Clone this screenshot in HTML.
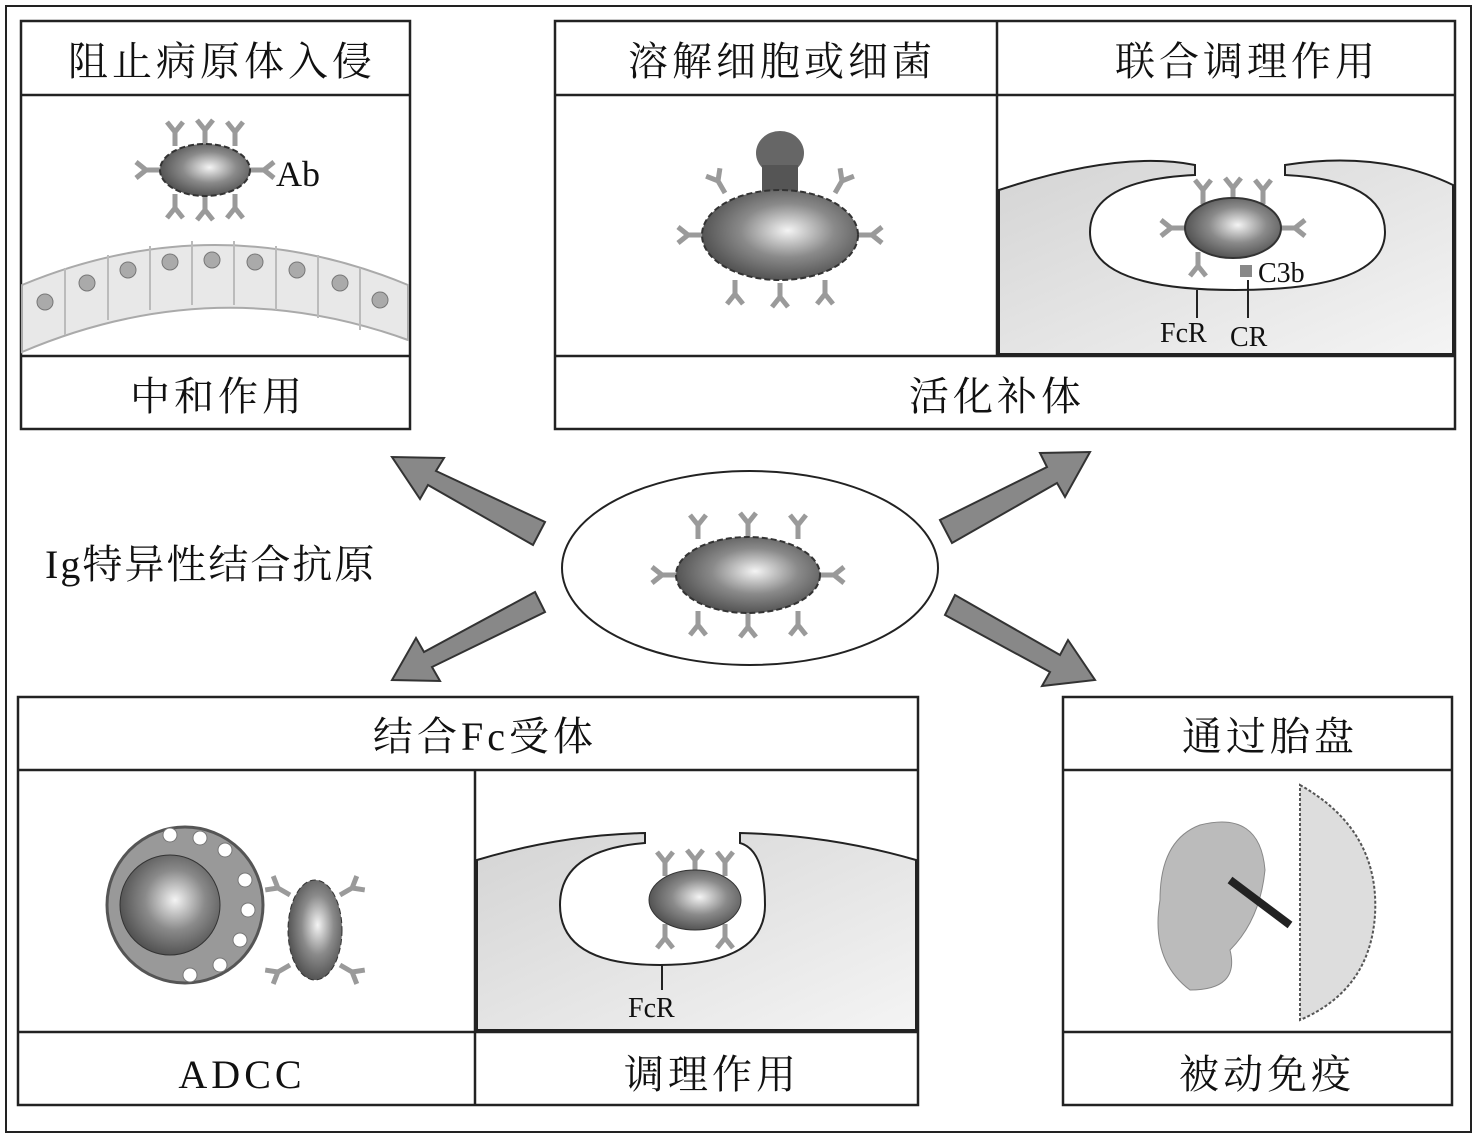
<!DOCTYPE html>
<html><head><meta charset="utf-8"><style>
html,body{margin:0;padding:0;background:#fff;}
svg{display:block;}
text{font-family:"Liberation Serif","Noto Serif CJK SC","Noto Sans CJK SC",serif;fill:#111;}
.h{letter-spacing:4px;}
</style></head><body>
<svg width="1477" height="1144" viewBox="0 0 1477 1144" xmlns="http://www.w3.org/2000/svg">
<defs>
<radialGradient id="bact" cx="0.55" cy="0.45" r="0.6"><stop offset="0" stop-color="#f4f4f4"/><stop offset="0.5" stop-color="#8a8a8a"/><stop offset="1" stop-color="#4a4a4a"/></radialGradient>
<linearGradient id="cellbg" x1="0" y1="0" x2="1" y2="1"><stop offset="0" stop-color="#d4d4d4"/><stop offset="1" stop-color="#f4f4f4"/></linearGradient>
<g id="ab"><path d="M0,0 L0,-14 M0,-14 L-8,-24 M0,-14 L8,-24" stroke="#9a9a9a" stroke-width="5" fill="none"/></g>
</defs>
<rect x="0" y="0" width="1477" height="1144" fill="#fff"/>
<rect x="6" y="6" width="1465" height="1126" fill="none" stroke="#222" stroke-width="2"/>

<!-- top-left box -->
<rect x="21" y="21" width="389" height="408" fill="#fff" stroke="#222" stroke-width="2.5"/>
<line x1="21" y1="95" x2="410" y2="95" stroke="#222" stroke-width="2.5"/>
<line x1="21" y1="356" x2="410" y2="356" stroke="#222" stroke-width="2.5"/>
<text class="h" x="222" y="75" font-size="40" text-anchor="middle">阻止病原体入侵</text>
<text class="h" x="218" y="410" font-size="40" text-anchor="middle">中和作用</text>
<g transform="translate(205,170)">
<use href="#ab" transform="translate(-30,-24)"/><use href="#ab" transform="translate(0,-26)"/><use href="#ab" transform="translate(30,-24)"/>
<use href="#ab" transform="translate(-30,24) rotate(180)"/><use href="#ab" transform="translate(0,26) rotate(180)"/><use href="#ab" transform="translate(30,24) rotate(180)"/>
<use href="#ab" transform="translate(-45,0) rotate(-90)"/><use href="#ab" transform="translate(45,0) rotate(90)"/>
<ellipse cx="0" cy="0" rx="45" ry="26" fill="url(#bact)" stroke="#333" stroke-width="2" stroke-dasharray="6 3"/>
</g>
<text x="276" y="186" font-size="36">Ab</text>
<path d="M22,285 Q215,205 408,285 L408,340 Q215,270 22,352 Z" fill="#e8e8e8" stroke="#aaa" stroke-width="2"/>
<g stroke="#bbb" stroke-width="2"><line x1="65" y1="268" x2="65" y2="335"/><line x1="108" y1="255" x2="108" y2="320"/><line x1="150" y1="246" x2="150" y2="310"/><line x1="192" y1="241" x2="192" y2="305"/><line x1="234" y1="241" x2="234" y2="305"/><line x1="276" y1="246" x2="276" y2="310"/><line x1="318" y1="255" x2="318" y2="318"/><line x1="360" y1="268" x2="360" y2="330"/></g>
<g fill="#aaa" stroke="#777"><circle cx="45" cy="302" r="8"/><circle cx="87" cy="283" r="8"/><circle cx="128" cy="270" r="8"/><circle cx="170" cy="262" r="8"/><circle cx="212" cy="260" r="8"/><circle cx="255" cy="262" r="8"/><circle cx="297" cy="270" r="8"/><circle cx="340" cy="283" r="8"/><circle cx="380" cy="300" r="8"/></g>

<!-- top-right box -->
<rect x="555" y="21" width="900" height="408" fill="#fff" stroke="#222" stroke-width="2.5"/>
<line x1="555" y1="95" x2="1455" y2="95" stroke="#222" stroke-width="2.5"/>
<line x1="555" y1="356" x2="1455" y2="356" stroke="#222" stroke-width="2.5"/>
<line x1="997" y1="21" x2="997" y2="356" stroke="#222" stroke-width="2.5"/>
<text class="h" x="782" y="75" font-size="40" text-anchor="middle">溶解细胞或细菌</text>
<text class="h" x="1247" y="75" font-size="40" text-anchor="middle">联合调理作用</text>
<text class="h" x="997" y="410" font-size="40" text-anchor="middle">活化补体</text>
<g transform="translate(780,235)">
<ellipse cx="0" cy="-82" rx="24" ry="22" fill="#666"/><rect x="-18" y="-70" width="36" height="30" fill="#555"/>
<use href="#ab" transform="translate(-55,-42) rotate(-30)"/><use href="#ab" transform="translate(55,-42) rotate(30)"/>
<use href="#ab" transform="translate(-45,45) rotate(180)"/><use href="#ab" transform="translate(0,48) rotate(180)"/><use href="#ab" transform="translate(45,45) rotate(180)"/>
<use href="#ab" transform="translate(-78,0) rotate(-90)"/><use href="#ab" transform="translate(78,0) rotate(90)"/>
<ellipse cx="0" cy="0" rx="78" ry="45" fill="url(#bact)" stroke="#333" stroke-width="2" stroke-dasharray="6 3"/>
</g>
<path d="M999,190 Q1120,150 1195,165 L1195,175 Q1090,180 1090,232 Q1090,290 1235,290 Q1385,290 1385,232 Q1385,180 1285,175 L1285,165 Q1380,150 1453,185 L1453,354 L999,354 Z" fill="url(#cellbg)" stroke="#222" stroke-width="2"/>
<g transform="translate(1233,228)">
<use href="#ab" transform="translate(-30,-24)"/><use href="#ab" transform="translate(0,-26)"/><use href="#ab" transform="translate(30,-24)"/>
<use href="#ab" transform="translate(-35,24) rotate(180)"/><use href="#ab" transform="translate(-48,0) rotate(-90)"/><use href="#ab" transform="translate(48,0) rotate(90)"/>
<ellipse cx="0" cy="0" rx="48" ry="30" fill="url(#bact)" stroke="#333" stroke-width="2"/>
</g>
<rect x="1240" y="265" width="12" height="12" fill="#888"/>
<line x1="1197" y1="290" x2="1197" y2="318" stroke="#222" stroke-width="2"/>
<line x1="1248" y1="280" x2="1248" y2="318" stroke="#222" stroke-width="2"/>
<text x="1258" y="282" font-size="28">C3b</text>
<text x="1160" y="342" font-size="28">FcR</text>
<text x="1230" y="346" font-size="28">CR</text>

<!-- center -->
<ellipse cx="750" cy="568" rx="188" ry="97" fill="#fff" stroke="#222" stroke-width="2"/>
<g transform="translate(748,575)">
<use href="#ab" transform="translate(-50,-36)"/><use href="#ab" transform="translate(0,-38)"/><use href="#ab" transform="translate(50,-36)"/>
<use href="#ab" transform="translate(-50,36) rotate(180)"/><use href="#ab" transform="translate(0,38) rotate(180)"/><use href="#ab" transform="translate(50,36) rotate(180)"/>
<use href="#ab" transform="translate(-72,0) rotate(-90)"/><use href="#ab" transform="translate(72,0) rotate(90)"/>
<ellipse cx="0" cy="0" rx="72" ry="38" fill="url(#bact)" stroke="#333" stroke-width="2" stroke-dasharray="6 3"/>
</g>
<text x="45" y="578" font-size="40" letter-spacing="2">Ig特异性结合抗原</text>

<!-- arrows -->
<g fill="#888" stroke="#333" stroke-width="2">
<polygon points="545,522 533,545 428,485 420,499 392,457 444,458 436,471" />
<polygon points="940,520 952,543 1057,483 1065,497 1090,452 1040,453 1047,467"/>
<polygon points="535,592 545,612 432,667 440,681 392,680 416,638 424,652"/>
<polygon points="955,595 945,615 1050,672 1042,686 1095,680 1068,640 1060,655"/>
</g>

<!-- bottom-left box -->
<rect x="18" y="697" width="900" height="408" fill="#fff" stroke="#222" stroke-width="2.5"/>
<line x1="18" y1="770" x2="918" y2="770" stroke="#222" stroke-width="2.5"/>
<line x1="18" y1="1032" x2="918" y2="1032" stroke="#222" stroke-width="2.5"/>
<line x1="475" y1="770" x2="475" y2="1105" stroke="#222" stroke-width="2.5"/>
<text class="h" x="485" y="750" font-size="40" text-anchor="middle">结合Fc受体</text>
<text class="h" x="242" y="1088" font-size="40" text-anchor="middle">ADCC</text>
<text class="h" x="712" y="1088" font-size="40" text-anchor="middle">调理作用</text>
<circle cx="185" cy="905" r="78" fill="#999" stroke="#555" stroke-width="3"/>
<circle cx="170" cy="905" r="50" fill="url(#bact)" stroke="#333"/>
<g fill="#fff" stroke="#777"><circle cx="245" cy="880" r="7"/><circle cx="248" cy="910" r="7"/><circle cx="240" cy="940" r="7"/><circle cx="220" cy="965" r="7"/><circle cx="190" cy="975" r="7"/><circle cx="225" cy="850" r="7"/><circle cx="200" cy="838" r="7"/><circle cx="170" cy="835" r="7"/></g>
<g transform="translate(315,930)"><use href="#ab" transform="translate(-25,-35) rotate(-60)"/><use href="#ab" transform="translate(25,-35) rotate(60)"/><use href="#ab" transform="translate(25,35) rotate(120)"/><use href="#ab" transform="translate(-25,35) rotate(-120)"/><ellipse cx="0" cy="0" rx="27" ry="50" fill="url(#bact)" stroke="#333" stroke-dasharray="6 3"/></g>
<path d="M477,860 Q560,835 645,833 L645,843 Q560,850 560,905 Q560,965 660,965 Q765,965 765,905 Q765,850 740,843 L740,833 Q830,835 916,860 L916,1030 L477,1030 Z" fill="url(#cellbg)" stroke="#222" stroke-width="2"/>
<g transform="translate(695,900)"><use href="#ab" transform="translate(-30,-24)"/><use href="#ab" transform="translate(0,-26)"/><use href="#ab" transform="translate(30,-24)"/><use href="#ab" transform="translate(-30,24) rotate(180)"/><use href="#ab" transform="translate(30,24) rotate(180)"/><ellipse cx="0" cy="0" rx="46" ry="30" fill="url(#bact)" stroke="#333"/></g>
<line x1="662" y1="965" x2="662" y2="990" stroke="#222" stroke-width="2"/>
<text x="628" y="1017" font-size="28">FcR</text>

<!-- bottom-right box -->
<rect x="1063" y="697" width="389" height="408" fill="#fff" stroke="#222" stroke-width="2.5"/>
<line x1="1063" y1="770" x2="1452" y2="770" stroke="#222" stroke-width="2.5"/>
<line x1="1063" y1="1032" x2="1452" y2="1032" stroke="#222" stroke-width="2.5"/>
<text class="h" x="1270" y="750" font-size="40" text-anchor="middle">通过胎盘</text>
<text class="h" x="1267" y="1088" font-size="40" text-anchor="middle">被动免疫</text>
<path d="M1300,785 Q1380,830 1375,915 Q1370,990 1300,1020 Z" fill="#ddd" stroke="#555" stroke-width="2" stroke-dasharray="3 2"/>
<path d="M1200,825 Q1260,810 1265,870 Q1260,920 1230,950 Q1240,990 1190,990 Q1150,960 1160,900 Q1160,840 1200,825 Z" fill="#bbb" stroke="#888"/>
<path d="M1230,880 L1290,925" stroke="#222" stroke-width="8"/>
</svg>
</body></html>
